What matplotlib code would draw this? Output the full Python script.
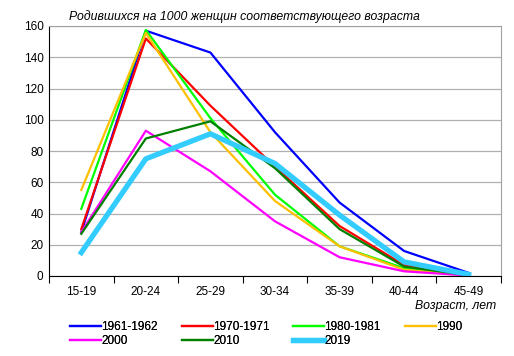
import matplotlib.pyplot as plt

plt.rcParams['font.family'] = ['Liberation Sans', 'DejaVu Sans']

ages = ['15-19', '20-24', '25-29', '30-34', '35-39', '40-44', '45-49']

y1961 = [28, 157, 143, 92, 47, 16, 2]
y1970 = [30, 152, 109, 70, 32, 7, 0.5]
y1980 = [43, 157.5, 101, 52, 19, 5, 0.5]
y1990 = [55, 155.5, 92, 48, 19, 4, 0.5]
y2000 = [28, 93, 67, 35, 12, 3, 0.3]
y2010 = [27, 88, 99, 69, 30, 6, 0.5]
y2019 = [15, 75, 91, 72, 39, 9, 1]

series = [
    ('1961-1962', y1961, '#0000ff', 1.6),
    ('1970-1971', y1970, '#ff0000', 1.6),
    ('1980-1981', y1980, '#00ff00', 1.6),
    ('1990', y1990, '#ffc000', 1.6),
    ('2000', y2000, '#ff00ff', 1.6),
    ('2010', y2010, '#008000', 1.6),
    ('2019', y2019, '#33ccff', 3.8),
]

fig = plt.figure(figsize=(5.14, 3.56), dpi=100)
ax = fig.add_axes([49/514, 1-276/356, 452/514, 250/356])

x = list(range(len(ages)))
lines = []
for name, vals, col, lw in series:
    ln, = ax.plot(x, vals, color=col, lw=lw, label=name)
    lines.append(ln)

ax.set_xlim(-0.5, len(ages) - 0.5)
ax.set_ylim(0, 160)
ax.set_yticks(range(0, 161, 20))
ax.yaxis.grid(True, color='#b0b0b0', lw=0.9)
ax.set_axisbelow(True)

ax.set_xticks([i - 0.5 for i in range(len(ages) + 1)])
ax.set_xticklabels([])
ax.set_xticks(x, minor=True)
ax.set_xticklabels(ages, minor=True)
ax.tick_params(axis='x', which='major', direction='out', length=5, color='black')
ax.tick_params(axis='x', which='minor', length=0, pad=7, labelsize=8.5)
ax.tick_params(axis='y', length=0, labelsize=8.5, pad=4)

for s in ['top', 'right']:
    ax.spines[s].set_color('#a0a0a0')
for s in ['left', 'bottom']:
    ax.spines[s].set_color('black')

fig.text(244/514, 1-17/356, 'Родившихся на 1000 женщин соответствующего возраста',
         ha='center', va='center', fontsize=8.8, style='italic')
fig.text(496/514, 1-306/356, 'Возраст, лет', ha='right', va='center',
         fontsize=8.8, style='italic')

# legend in 4 columns, row by row
col_x = [70, 182, 293, 405]
for c in range(4):
    idx = [i for i in (c, c + 4) if i < len(lines)]
    leg = fig.legend([lines[i] for i in idx], [series[i][0] for i in idx],
                     loc='upper left', bbox_to_anchor=(col_x[c]/514, 1-321/356),
                     frameon=False, fontsize=8.5, handlelength=2.6,
                     handletextpad=0.05, labelspacing=0.2, borderpad=0,
                     borderaxespad=0)
    fig.add_artist(leg)

fig.savefig('out.png', dpi=100)
